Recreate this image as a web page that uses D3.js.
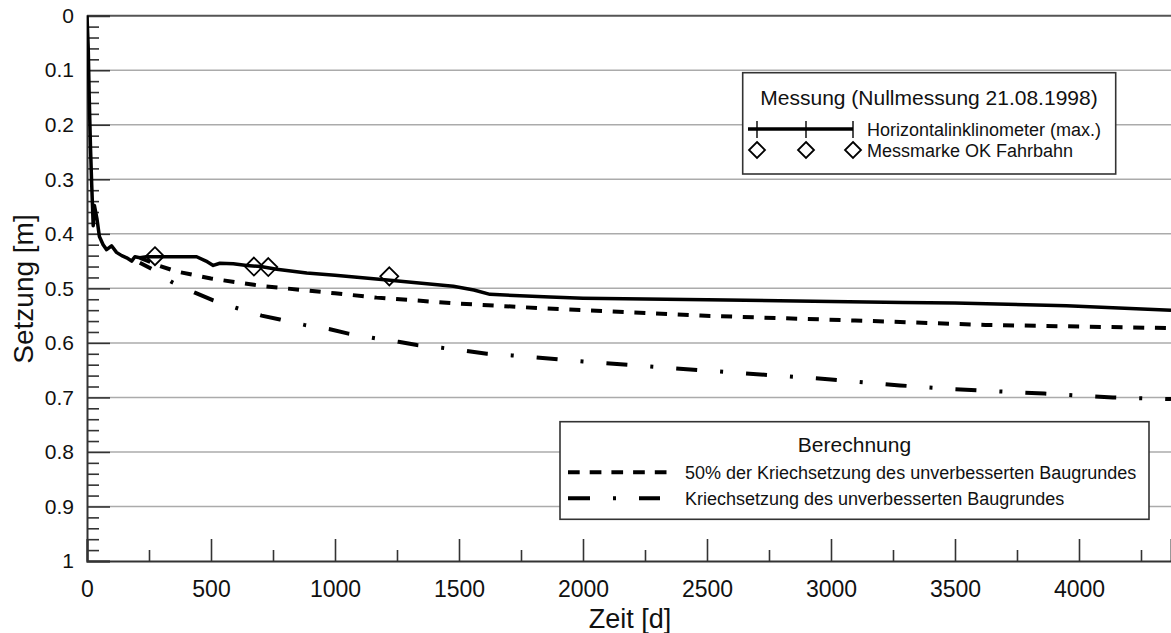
<!DOCTYPE html>
<html><head><meta charset="utf-8">
<script src="https://cdn.jsdelivr.net/npm/d3@7"></script>
<style>
html,body{margin:0;padding:0;background:#fff;}
svg{display:block;font-family:"Liberation Sans",Arial,Helvetica,sans-serif;}
</style></head>
<body>
<svg id="chart" width="1171" height="633"></svg>
<script>
// ---- data ----
const inklinoT = [0, 5, 9, 14, 19, 25, 30, 40, 50, 65, 79, 99, 119, 140, 160, 180, 193, 213, 240, 300, 442, 480, 509, 536, 590, 644, 700, 765, 886, 1000, 1222, 1477, 1560, 1625, 1867, 2000, 2500, 3000, 3290, 3500, 3950, 4371];
const inklinoS = [0, 0.06, 0.15, 0.24, 0.31, 0.385, 0.348, 0.372, 0.405, 0.42, 0.429, 0.422, 0.434, 0.44, 0.444, 0.45, 0.442, 0.444, 0.442, 0.442, 0.442, 0.45, 0.458, 0.454, 0.455, 0.458, 0.46, 0.465, 0.472, 0.476, 0.485, 0.496, 0.503, 0.511, 0.516, 0.518, 0.521, 0.524, 0.526, 0.527, 0.532, 0.540];
const messmarkeT = [274, 673, 731, 1219];
const messmarkeS = [0.441, 0.46, 0.461, 0.478];
const halbT = [214, 294, 361, 500, 710, 1000, 1168, 1500, 1853, 2474, 3097, 3623, 4371];
const halbS = [0.444, 0.459, 0.469, 0.482, 0.496, 0.509, 0.517, 0.528, 0.537, 0.550, 0.559, 0.567, 0.573];
const kriechT = [213, 260, 344, 435, 509, 603, 704, 778, 876, 980, 1054, 1156, 1256, 1330, 1430, 1531, 1612, 1713, 2000, 2500, 3000, 3278, 3500, 3860, 4137, 4371];
const kriechS = [0.453, 0.464, 0.489, 0.508, 0.522, 0.536, 0.55, 0.557, 0.567, 0.575, 0.583, 0.591, 0.598, 0.604, 0.609, 0.615, 0.62, 0.623, 0.634, 0.651, 0.667, 0.678, 0.685, 0.693, 0.700, 0.703];
const xMajorTicks = [0, 500, 1000, 1500, 2000, 2500, 3000, 3500, 4000];
const xMinorTicks = [250, 750, 1250, 1750, 2250, 2750, 3250, 3750, 4250];
const yMajorTicks = [0, 0.1, 0.2, 0.3, 0.4, 0.5, 0.6, 0.7, 0.8, 0.9, 1];
const yTickLabels = ["0", "0.1", "0.2", "0.3", "0.4", "0.5", "0.6", "0.7", "0.8", "0.9", "1"];
const xTitle = "Zeit [d]";
const yTitle = "Setzung [m]";
const legend1Title = "Messung (Nullmessung 21.08.1998)";
const legend1Items = ["Horizontalinklinometer (max.)", "Messmarke OK Fahrbahn"];
const legend2Title = "Berechnung";
const legend2Items = ["50% der Kriechsetzung des unverbesserten Baugrundes", "Kriechsetzung des unverbesserten Baugrundes"];

// ---- layout ----
const L = 87, R = 1171, T = 15.7, B = 561;
const svg = d3.select("#chart");
const x = d3.scaleLinear().domain([0, 4371]).range([L, R]);
const y = d3.scaleLinear().domain([0, 1]).range([T, B]);
const yMinor = d3.range(0, 1.0001, 0.02).filter(v => Math.abs(Math.round(v * 10) - v * 10) > 1e-6);

svg.append("defs").append("clipPath").attr("id", "clip")
  .append("rect").attr("x", L).attr("y", T - 5).attr("width", R - L).attr("height", B - T + 5);

// gridlines
svg.append("g").selectAll("line").data(yMajorTicks.filter(v => v > 0 && v < 1)).join("line")
  .attr("x1", L).attr("x2", R).attr("y1", d => y(d)).attr("y2", d => y(d))
  .attr("stroke", "#ababab").attr("stroke-width", 1.5);
svg.append("line").attr("x1", L).attr("x2", R).attr("y1", y(0)).attr("y2", y(0))
  .attr("stroke", "#555").attr("stroke-width", 2);

// x axis
const gx = svg.append("g").attr("transform", `translate(0,${B})`);
gx.call(d3.axisBottom(x).tickValues(xMajorTicks).tickSize(-22).tickPadding(20).tickFormat(d3.format("d")));
const gxm = svg.append("g").attr("transform", `translate(0,${B})`);
gxm.call(d3.axisBottom(x).tickValues(xMinorTicks).tickSize(-11).tickFormat(""));
gxm.select(".domain").remove();
[gx, gxm].forEach(g => {
  g.selectAll(".domain").attr("stroke", "#333").attr("stroke-width", 2);
  g.selectAll(".tick line").attr("stroke", "#333").attr("stroke-width", 1.6);
});
gx.selectAll(".tick text").attr("font-size", 23).attr("fill", "#111")
  .attr("font-family", "'Liberation Sans',Arial,sans-serif");

// y axis
const gy = svg.append("g").attr("transform", `translate(${L},0)`);
gy.call(d3.axisLeft(y).tickValues(yMajorTicks).tickSize(-23).tickPadding(13)
  .tickFormat((d, i) => yTickLabels[i]));
const gym = svg.append("g").attr("transform", `translate(${L},0)`);
gym.call(d3.axisLeft(y).tickValues(yMinor).tickSize(-12).tickFormat(""));
gym.select(".domain").remove();
[gy, gym].forEach(g => {
  g.selectAll(".domain").attr("stroke", "#333").attr("stroke-width", 2);
  g.selectAll(".tick line").attr("stroke", "#333").attr("stroke-width", 1.6);
});
gy.selectAll(".tick text").attr("font-size", 21).attr("fill", "#111")
  .attr("font-family", "'Liberation Sans',Arial,sans-serif");

// axis titles
svg.append("text").attr("x", 630).attr("y", 628).attr("text-anchor", "middle")
  .attr("font-size", 27).attr("fill", "#111").text(xTitle);
svg.append("text").attr("transform", `translate(33,289) rotate(-90)`).attr("text-anchor", "middle")
  .attr("font-size", 28).attr("fill", "#111").text(yTitle);

// series
const line = d3.line().x(d => x(d[0])).y(d => y(d[1]));
const plot = svg.append("g").attr("clip-path", "url(#clip)");
plot.append("path").datum(kriechT.map((t, i) => [t, kriechS[i]]))
  .attr("d", line).attr("fill", "none").attr("stroke", "#000").attr("stroke-width", 4)
  .attr("stroke-dasharray", "21,23,3,23").attr("stroke-dashoffset", 8);
plot.append("path").datum(halbT.map((t, i) => [t, halbS[i]]))
  .attr("d", line).attr("fill", "none").attr("stroke", "#000").attr("stroke-width", 4)
  .attr("stroke-dasharray", "11,10.7");
plot.append("path").datum(inklinoT.map((t, i) => [t, inklinoS[i]]))
  .attr("d", line).attr("fill", "none").attr("stroke", "#000").attr("stroke-width", 3.5)
  .attr("stroke-linejoin", "round");

const diamond = (cx, cy, r) => `M${cx},${cy - r}L${cx + r},${cy}L${cx},${cy + r}L${cx - r},${cy}Z`;
plot.append("g").selectAll("path").data(messmarkeT.map((t, i) => [t, messmarkeS[i]])).join("path")
  .attr("d", d => diamond(x(d[0]), y(d[1]), 9)).attr("fill", "none")
  .attr("stroke", "#000").attr("stroke-width", 1.8);

// legend 1
const lg1 = svg.append("g");
lg1.append("rect").attr("x", 742.7).attr("y", 72.7).attr("width", 373).attr("height", 101.3)
  .attr("fill", "#fff").attr("stroke", "#333").attr("stroke-width", 1.6);
lg1.append("text").attr("x", 929).attr("y", 105).attr("text-anchor", "middle")
  .attr("font-size", 21).attr("fill", "#111").text(legend1Title);
lg1.append("line").attr("x1", 748).attr("x2", 853).attr("y1", 129).attr("y2", 129)
  .attr("stroke", "#000").attr("stroke-width", 3.5);
[757, 806, 853].forEach(cx => {
  lg1.append("line").attr("x1", cx).attr("x2", cx).attr("y1", 121).attr("y2", 138)
    .attr("stroke", "#000").attr("stroke-width", 1.4);
  lg1.append("path").attr("d", diamond(cx, 150, 8)).attr("fill", "none")
    .attr("stroke", "#000").attr("stroke-width", 1.8);
});
lg1.append("text").attr("x", 867).attr("y", 136).attr("font-size", 18).attr("fill", "#111").text(legend1Items[0]);
lg1.append("text").attr("x", 867).attr("y", 157).attr("font-size", 18).attr("fill", "#111").text(legend1Items[1]);

// legend 2
const lg2 = svg.append("g");
lg2.append("rect").attr("x", 560).attr("y", 421.7).attr("width", 589).attr("height", 97.6)
  .attr("fill", "#fff").attr("stroke", "#333").attr("stroke-width", 1.6);
lg2.append("text").attr("x", 854.5).attr("y", 452).attr("text-anchor", "middle")
  .attr("font-size", 21).attr("fill", "#111").text(legend2Title);
lg2.append("line").attr("x1", 568).attr("x2", 667).attr("y1", 472.3).attr("y2", 472.3)
  .attr("stroke", "#000").attr("stroke-width", 4).attr("stroke-dasharray", "11.7,10");
lg2.append("line").attr("x1", 568).attr("x2", 660).attr("y1", 498.3).attr("y2", 498.3)
  .attr("stroke", "#000").attr("stroke-width", 4).attr("stroke-dasharray", "22,23,3,23");
lg2.append("text").attr("x", 685).attr("y", 479).attr("font-size", 18).attr("fill", "#111").text(legend2Items[0]);
lg2.append("text").attr("x", 685).attr("y", 505).attr("font-size", 18).attr("fill", "#111").text(legend2Items[1]);
</script>
</body></html>
